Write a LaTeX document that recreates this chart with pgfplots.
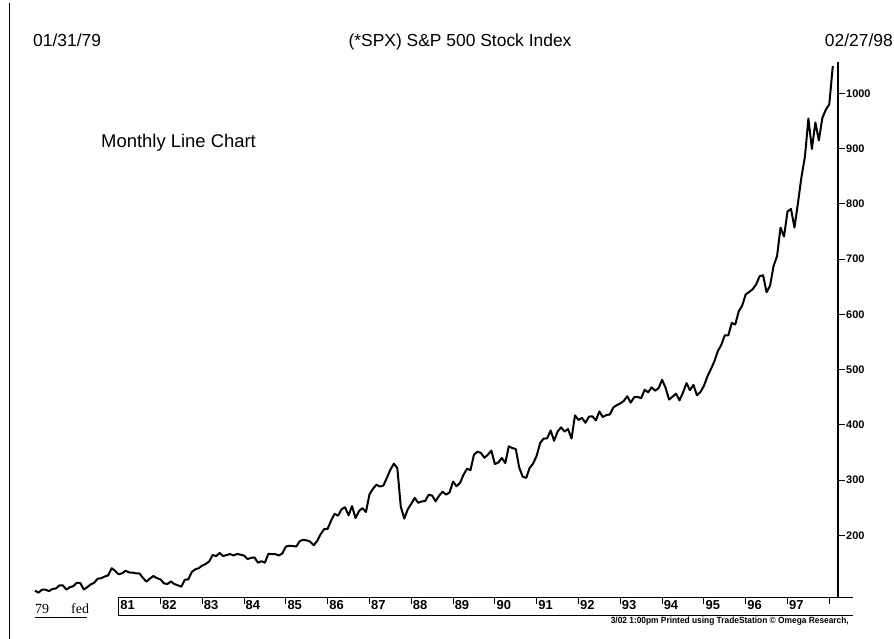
\documentclass[border=0pt]{standalone}
\usepackage{fontspec}
\setmainfont{Liberation Sans}
\newfontfamily\timesfont{Liberation Serif}
\usepackage{graphicx}
\usepackage{pgfplots}
\usepackage{pgfplotstable}
\pgfplotsset{compat=1.18}

% S&P 500 monthly closes, Jan 1979 -- Feb 1998 (one row per month)
\pgfplotstableread[row sep=\\]{
v\\
99.93\\ 96.28\\ 101.59\\ 101.76\\ 99.08\\ 102.91\\ 103.81\\ 109.32\\ 109.32\\ 101.82\\ 106.16\\ 107.94\\
114.16\\ 113.66\\ 102.09\\ 106.29\\ 111.24\\ 114.24\\ 121.67\\ 122.38\\ 125.46\\ 127.47\\ 140.52\\ 135.76\\
129.55\\ 131.27\\ 136.00\\ 132.81\\ 132.59\\ 131.21\\ 130.92\\ 122.79\\ 116.18\\ 121.89\\ 126.35\\ 122.55\\
120.40\\ 113.11\\ 111.96\\ 116.44\\ 111.88\\ 109.61\\ 107.09\\ 119.51\\ 120.42\\ 133.71\\ 138.54\\ 140.64\\
145.30\\ 148.06\\ 152.96\\ 164.42\\ 162.39\\ 168.11\\ 162.56\\ 164.40\\ 166.07\\ 163.55\\ 166.40\\ 164.93\\
163.41\\ 157.06\\ 159.18\\ 160.05\\ 150.55\\ 153.18\\ 150.66\\ 166.68\\ 166.10\\ 166.09\\ 163.58\\ 167.24\\
179.63\\ 181.18\\ 180.66\\ 179.83\\ 189.55\\ 191.85\\ 190.92\\ 188.63\\ 182.08\\ 189.82\\ 202.17\\ 211.28\\
211.78\\ 226.92\\ 238.90\\ 235.52\\ 247.35\\ 250.84\\ 236.12\\ 252.93\\ 231.32\\ 243.98\\ 249.22\\ 242.17\\
274.08\\ 284.20\\ 291.70\\ 288.36\\ 290.10\\ 304.00\\ 318.66\\ 329.80\\ 321.83\\ 251.79\\ 230.30\\ 247.08\\
257.07\\ 267.82\\ 258.89\\ 261.33\\ 262.16\\ 273.50\\ 272.02\\ 261.52\\ 271.91\\ 278.97\\ 273.70\\ 277.72\\
297.47\\ 288.86\\ 294.87\\ 309.64\\ 320.52\\ 317.98\\ 346.08\\ 351.45\\ 349.15\\ 340.36\\ 345.99\\ 353.40\\
329.08\\ 331.89\\ 339.94\\ 330.80\\ 361.23\\ 358.02\\ 356.15\\ 322.56\\ 306.05\\ 304.00\\ 322.22\\ 330.22\\
343.93\\ 367.07\\ 375.22\\ 375.34\\ 389.83\\ 371.16\\ 387.81\\ 395.43\\ 387.86\\ 392.46\\ 375.22\\ 417.09\\
408.79\\ 412.70\\ 403.69\\ 414.95\\ 415.35\\ 408.14\\ 424.21\\ 414.03\\ 417.80\\ 418.68\\ 431.35\\ 435.71\\
438.78\\ 443.38\\ 451.67\\ 440.19\\ 450.19\\ 450.53\\ 448.13\\ 463.56\\ 458.93\\ 467.83\\ 461.79\\ 466.45\\
481.61\\ 467.14\\ 445.77\\ 450.91\\ 456.50\\ 444.27\\ 458.26\\ 475.49\\ 462.69\\ 472.35\\ 453.69\\ 459.27\\
470.42\\ 487.39\\ 500.71\\ 514.71\\ 533.40\\ 544.75\\ 562.06\\ 561.88\\ 584.41\\ 581.50\\ 605.37\\ 615.93\\
636.02\\ 640.43\\ 645.50\\ 654.17\\ 669.12\\ 670.63\\ 639.95\\ 651.99\\ 687.31\\ 705.27\\ 757.02\\ 740.74\\
786.16\\ 790.82\\ 757.12\\ 801.34\\ 848.28\\ 885.14\\ 954.29\\ 899.47\\ 947.28\\ 914.62\\ 955.40\\ 970.43\\
980.28\\ 1049.34\\
}\spx

\begin{document}
\begin{tikzpicture}[x=1bp,y=1bp]
\useasboundingbox (0,0) rectangle (894,-639);
% left border
\draw[line width=1.8bp] (9.5,-3) -- (9.5,-639);
% header
\node[anchor=base west, inner sep=0, font=\fontsize{17.5}{20}\selectfont] at (33,-46.5) {01/31/79};
\node[anchor=base, inner sep=0, font=\fontsize{17.5}{20}\selectfont] at (460,-46.5) {(*SPX) S\&P 500 Stock Index};
\node[anchor=base east, inner sep=0, font=\fontsize{17.5}{20}\selectfont] at (893,-46.5) {02/27/98};
\node[anchor=base west, inner sep=0, font=\fontsize{18.5}{20}\selectfont] at (101,-148) {Monthly Line Chart};

\begin{axis}[
  at={(35bp,-597bp)}, anchor=south west,
  width=803bp, height=535bp, scale only axis,
  xmin=0, xmax=230.5, ymin=88.4, ymax=1056.7,
  axis x line*=bottom, axis y line*=right,
  x axis line style={draw=none},
  y axis line style={line width=1.3bp},
  xtick={24,36,48,60,72,84,96,108,120,132,144,156,168,180,192,204,216,228},
  xticklabels={81,82,83,84,85,86,87,88,89,90,91,92,93,94,95,96,97,{}},
  ytick={200,300,400,500,600,700,800,900,1000},
  tick align=outside, major tick length=7bp,
  tick style={black, line width=1bp},
  /pgf/number format/assume math mode=true,
  /pgf/number format/1000 sep={},
  yticklabel style={font=\bfseries\fontsize{11}{11}\selectfont, anchor=west, inner sep=0pt, xshift=1bp},
  xticklabel style={font=\bfseries\fontsize{13}{13}\selectfont, anchor=north west, inner sep=0pt, xshift=1.5bp, yshift=3.5bp},
  clip=false,
]
\addplot[black, line width=2bp, line join=round, mark=none] table[x expr=\coordindex, y=v] {\spx};
\end{axis}

% date band
\draw[line width=1bp] (118,-597) -- (853,-597);
\draw[line width=1.5bp] (118,-615.5) -- (853,-615.5);
\draw[line width=1bp] (118,-597) -- (118,-615.5);
% left labels
\node[anchor=base west, inner sep=0, font=\timesfont\fontsize{14}{14}\selectfont] at (35,-613) {79};
\node[anchor=base west, inner sep=0, font=\timesfont\fontsize{14}{14}\selectfont] at (71,-613) {fed};
\draw[line width=1.6bp] (35,-617.5) -- (87,-617.5);
% footer
\node[anchor=north east, inner sep=0] at (849,-616.5) {\resizebox{238bp}{6.5bp}{\bfseries 3/02 1:00pm Printed using TradeStation \textcopyright{} Omega Research,}};
\end{tikzpicture}
\end{document}
